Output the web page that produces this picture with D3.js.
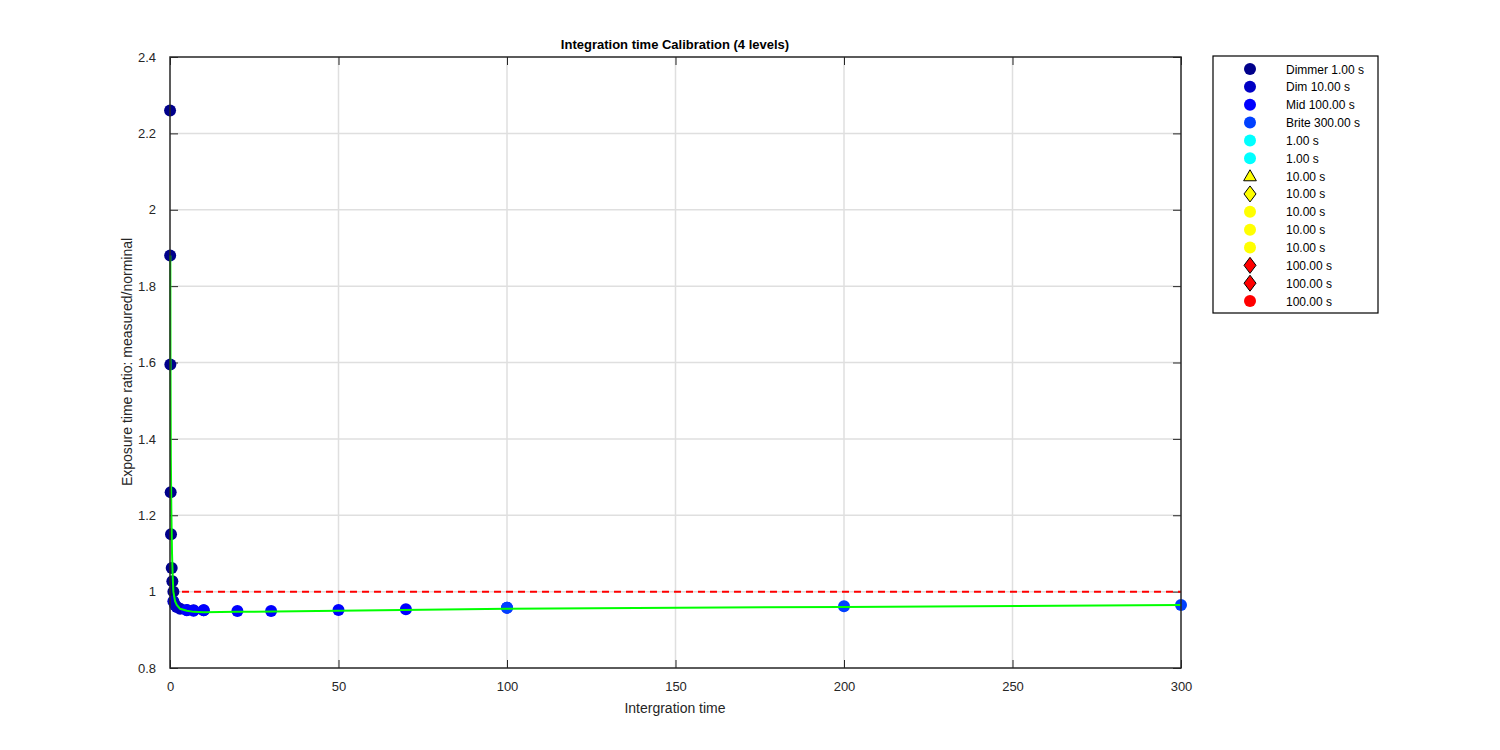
<!DOCTYPE html>
<head>
  <meta charset="utf-8">
  <script src="https://d3js.org/d3.v7.min.js"></script>
  <style>
    body { margin:0; background:#fff; }
    text { font-family: "Liberation Sans", Arial, sans-serif; fill:#262626; }
  </style>
</head>
<body>
  <div class="chart"></div>
  <script>
    // measured exposure ratios, one array pair per level
    const dimmerX = [0.02, 0.05, 0.1, 0.2, 0.3, 0.5, 0.7, 1];
    const dimmerY = [2.26, 1.88, 1.595, 1.26, 1.15, 1.062, 1.027, 1.0];
    const dimX = [1, 1.5, 2, 3, 5, 7, 10];
    const dimY = [0.975, 0.965, 0.96, 0.955, 0.952, 0.951, 0.951];
    const midX = [5, 7, 10, 20, 30, 50, 70, 100];
    const midY = [0.951, 0.95, 0.951, 0.949, 0.949, 0.952, 0.954, 0.958];
    const briteX = [100, 200, 300];
    const briteY = [0.958, 0.962, 0.965];

    // fitted curve
    const fitX = [0.1, 0.15, 0.25, 0.4, 0.6, 0.8, 1, 1.5, 2, 3, 5, 7, 10, 20, 50, 100, 200, 300];
    const fitY = [1.88, 1.6, 1.35, 1.21, 1.1, 1.04, 1.0, 0.975, 0.965, 0.955, 0.95, 0.947, 0.946, 0.947, 0.95, 0.955, 0.96, 0.965];

    const refY = 1;

    const xTicks = [0, 50, 100, 150, 200, 250, 300];
    const yTicks = [0.8, 1, 1.2, 1.4, 1.6, 1.8, 2, 2.2, 2.4];

    const legendLabels = ['Dimmer 1.00 s', 'Dim 10.00 s', 'Mid 100.00 s', 'Brite 300.00 s',
      '1.00 s', '1.00 s', '10.00 s', '10.00 s', '10.00 s', '10.00 s', '10.00 s',
      '100.00 s', '100.00 s', '100.00 s'];
    const legendColors = ['#00008b', '#0000c4', '#0000ff', '#0040ff',
      '#00ffff', '#00ffff', '#ffff00', '#ffff00', '#ffff00', '#ffff00', '#ffff00',
      '#ff0000', '#ff0000', '#ff0000'];
    const legendShapes = ['o', 'o', 'o', 'o', 'o', 'o', '^', 'd', 'o', 'o', 'o', 'd', 'd', 'o'];

    const series = [
      { x: dimmerX, y: dimmerY, color: legendColors[0] },
      { x: dimX, y: dimY, color: legendColors[1] },
      { x: midX, y: midY, color: legendColors[2] },
      { x: briteX, y: briteY, color: legendColors[3] }
    ];

    const margin = { top: 57, left: 170 };
    const width = 1011, height = 611;

    const svg = d3.select('.chart').append('svg')
      .attr('width', 1500).attr('height', 750);
    const g = svg.append('g').attr('transform', `translate(${margin.left},${margin.top})`);

    const xScale = d3.scaleLinear().domain([0, 300]).range([0, width]);
    const yScale = d3.scaleLinear().domain([0.8, 2.4]).range([height, 0]);

    // grid
    g.append('g').selectAll('line').data(xTicks.slice(1, -1)).enter().append('line')
      .attr('x1', d => xScale(d)).attr('x2', d => xScale(d))
      .attr('y1', 0).attr('y2', height)
      .style('stroke', '#dfdfdf').style('stroke-width', 1.5);
    g.append('g').selectAll('line').data(yTicks.slice(1, -1)).enter().append('line')
      .attr('y1', d => yScale(d)).attr('y2', d => yScale(d))
      .attr('x1', 0).attr('x2', width)
      .style('stroke', '#dfdfdf').style('stroke-width', 1.5);

    // axes
    const axisStyle = sel => {
      sel.select('.domain').remove();
      sel.selectAll('line').style('stroke', '#262626');
      sel.selectAll('text').style('font-size', '13px').style('fill', '#262626');
    };
    const fmt = d => d3.format('')(+d.toFixed(1));
    g.append('g').attr('transform', `translate(0,${height})`)
      .call(d3.axisBottom(xScale).tickValues(xTicks).tickSize(-8).tickPadding(14))
      .call(axisStyle);
    g.append('g')
      .call(d3.axisTop(xScale).tickValues(xTicks).tickSize(-8).tickFormat(''))
      .call(axisStyle);
    g.append('g')
      .call(d3.axisLeft(yScale).tickValues(yTicks).tickSize(-8).tickPadding(14).tickFormat(fmt))
      .call(axisStyle);
    g.append('g').attr('transform', `translate(${width},0)`)
      .call(d3.axisRight(yScale).tickValues(yTicks).tickSize(-8).tickFormat(''))
      .call(axisStyle);

    // reference line at 1
    g.append('line')
      .attr('x1', xScale(0)).attr('x2', xScale(300))
      .attr('y1', yScale(refY)).attr('y2', yScale(refY))
      .style('stroke', '#ff0000').style('stroke-width', 2).style('stroke-dasharray', '7,5');

    // points
    series.forEach(s => {
      g.append('g').selectAll('circle').data(s.x).enter().append('circle')
        .attr('cx', d => xScale(d))
        .attr('cy', (d, i) => yScale(s.y[i]))
        .attr('r', 6)
        .style('fill', s.color);
    });

    // fit
    const line = d3.line().x(d => xScale(d[0])).y(d => yScale(d[1]));
    g.append('path')
      .attr('d', line(fitX.map((x, i) => [x, fitY[i]])))
      .style('fill', 'none').style('stroke', '#00ff00').style('stroke-width', 2);

    // box
    g.append('rect').attr('width', width).attr('height', height)
      .style('fill', 'none').style('stroke', '#262626').style('stroke-width', 1.5);

    // labels
    svg.append('text').attr('x', 675).attr('y', 49).attr('text-anchor', 'middle')
      .style('font-size', '13px').style('font-weight', 'bold').style('fill', '#000')
      .text('Integration time Calibration (4 levels)');
    svg.append('text').attr('x', 675).attr('y', 713).attr('text-anchor', 'middle')
      .style('font-size', '14px').text('Intergration time');
    svg.append('text').attr('transform', 'translate(132,362) rotate(-90)')
      .attr('text-anchor', 'middle').style('font-size', '14px')
      .text('Exposure time ratio: measured/norminal');

    // legend
    const lg = svg.append('g').attr('transform', 'translate(1213,56)');
    lg.append('rect').attr('width', 165).attr('height', 257)
      .style('fill', '#fff').style('stroke', '#000').style('stroke-width', 1.2);
    const symbol = s => s === '^' ? d3.symbol(d3.symbolTriangle, 70)()
      : s === 'd' ? 'M0,-8L6,0L0,8L-6,0Z' : null;
    legendLabels.forEach((label, i) => {
      const y = 13 + i * 17.85;
      const shape = legendShapes[i];
      if (shape === 'o') {
        lg.append('circle').attr('cx', 37).attr('cy', y).attr('r', 6)
          .style('fill', legendColors[i]);
      } else {
        lg.append('path').attr('d', symbol(shape))
          .attr('transform', `translate(37,${y + (shape === '^' ? 1 : 0)})`)
          .style('fill', legendColors[i]).style('stroke', '#000').style('stroke-width', 1);
      }
      lg.append('text').attr('x', 73).attr('y', y + 4.5)
        .style('font-size', '12px').style('fill', '#000').text(label);
    });
  </script>
</body>
</html>
